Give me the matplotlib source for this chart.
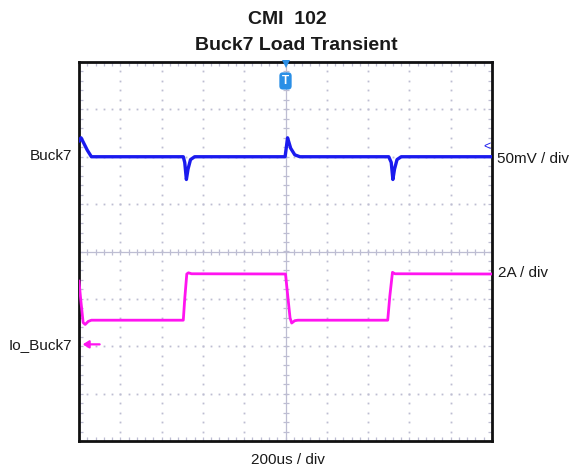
import numpy as np
import matplotlib
matplotlib.use("Agg")
import matplotlib.pyplot as plt

# ---------------- data (read from the scope shot) ----------------
# Buck7 output voltage deviation (mV) vs time (us); scale 50 mV/div
t_buck7_us = [0, 10, 40, 60, 100, 505, 512, 520, 528, 540, 560,
              998, 1010, 1025, 1045, 1070, 1500, 1512, 1520, 1528, 1540, 1560, 2000]
v_buck7_mV = [17, 20, 7, 0, 0, 0, -6, -24, -13, -3, 0,
              0, 20, 9, 2, 0, 0, -6, -24, -13, -3, 0, 0]

# Io_Buck7 load current (A) vs time (us); scale 2 A/div
t_io_us = [0, 8, 20, 30, 45, 60, 505, 512, 522, 530, 545,
           1000, 1010, 1022, 1030, 1045, 1060, 1495, 1505, 1518, 1530, 2000]
i_io_A = [2.75, 2.0, 1.0, 0.92, 1.05, 1.1, 1.1, 2.0, 3.05, 3.1, 3.06,
          3.05, 2.2, 1.2, 0.98, 1.08, 1.1, 1.1, 2.1, 3.12, 3.06, 3.05]

title_lines = ["CMI  102", "Buck7 Load Transient"]
ch_names = ["Buck7", "Io_Buck7"]
ch_scales = ["50mV / div", "2A / div"]
time_scale = "200us / div"

# ---------------- figure ----------------
FONT = ["Liberation Sans", "DejaVu Sans"]
plt.rcParams["font.family"] = FONT
W, H = 573, 472
fig = plt.figure(figsize=(W / 100, H / 100), dpi=100)
L, R, T, B = 79, 492, 62, 441
ax = fig.add_axes([L / W, 1 - B / H, (R - L) / W, (B - T) / H])
ax.set_xlim(0, 2000)
ax.set_ylim(-4, 4)

gridc = "#bdbdd2"
# dotted graticule
xs_minor = np.arange(0, 2001, 40)
ys_minor = np.arange(-4, 4.001, 0.2)
for yg in [-3, -2, -1, 1, 2, 3]:
    ax.plot(xs_minor, np.full_like(xs_minor, yg, dtype=float), ls="none",
            marker="s", ms=1.3, color=gridc, mew=0, zorder=1)
for xg in [200, 400, 600, 800, 1200, 1400, 1600, 1800]:
    ax.plot(np.full_like(ys_minor, xg), ys_minor, ls="none",
            marker="s", ms=1.3, color=gridc, mew=0, zorder=1)
# centre cross with ticks
ax.axhline(0, color=gridc, lw=0.9, zorder=1)
ax.axvline(1000, color=gridc, lw=0.9, zorder=1)
ax.plot(xs_minor, np.zeros_like(xs_minor, dtype=float), ls="none", marker="|",
        ms=5, mew=0.9, color=gridc, zorder=1)
ax.plot(np.full_like(ys_minor, 1000), ys_minor, ls="none", marker="_",
        ms=5, mew=0.9, color=gridc, zorder=1)

# border ticks
ax.set_xticks(np.arange(0, 2001, 200))
ax.set_yticks(np.arange(-4, 4.01, 1))
ax.set_xticks(xs_minor, minor=True)
ax.set_yticks(ys_minor, minor=True)
ax.tick_params(which="both", direction="in", length=3, width=0.9, color=gridc,
               top=True, right=True, labelbottom=False, labelleft=False)
for s in ax.spines.values():
    s.set_color("#111111")
    s.set_linewidth(2)

# traces
blue = "#1a1aee"
pink = "#ff14f0"
yb = 2 + np.array(v_buck7_mV) / 50.0
yi = -2 + np.array(i_io_A) / 2.0
ax.plot(t_buck7_us, yb, color=blue, lw=2.4, solid_joinstyle="round", zorder=3)
ax.plot(t_io_us, yi, color=pink, lw=2.0, solid_joinstyle="round", zorder=3)

# trigger marker
ax.plot([1000], [3.95], marker="v", ms=6, color="#2a8fe6", mew=0, zorder=5, clip_on=False)
ax.text(1000, 3.6, "T", ha="center", va="center", fontsize=8.5, fontweight="bold",
        color="white", zorder=6,
        bbox=dict(boxstyle="round,pad=0.22,rounding_size=0.3", fc="#2a8fe6", ec="none"))
# channel markers
ax.text(1975, 2.2, "<", ha="center", va="center", fontsize=9, color=blue, zorder=5)
ax.annotate("", xy=(18, -1.96), xytext=(100, -1.96),
            arrowprops=dict(arrowstyle="-|>,head_length=0.35,head_width=0.22",
                            color=pink, lw=1.6, shrinkA=0, shrinkB=0), zorder=5)

# texts
tc = "#1a1a1a"
fig.text(287 / W, 1 - 19 / H, title_lines[0], ha="center", va="center",
         fontsize=14, fontweight="bold", color=tc)
fig.text(296 / W, 1 - 45 / H, title_lines[1], ha="center", va="center",
         fontsize=14, fontweight="bold", color=tc)
fig.text(72 / W, 1 - 156 / H, ch_names[0], ha="right", va="center", fontsize=11, color=tc)
fig.text(72 / W, 1 - 345 / H, ch_names[1], ha="right", va="center", fontsize=11, color=tc)
fig.text(497 / W, 1 - 159 / H, ch_scales[0], ha="left", va="center", fontsize=11, color=tc)
fig.text(498 / W, 1 - 273 / H, ch_scales[1], ha="left", va="center", fontsize=11, color=tc)
fig.text(288 / W, 1 - 460 / H, time_scale, ha="center", va="center", fontsize=11, color=tc)

fig.savefig("out.png", dpi=100, facecolor="white")
